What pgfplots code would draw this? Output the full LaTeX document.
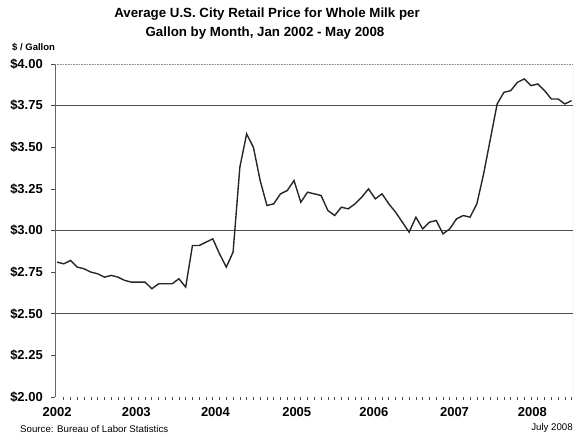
\documentclass[border=0pt]{standalone}
\usepackage{fontspec}
\setmainfont{Liberation Sans}
\usepackage{pgfplots}
\usepackage{pgfplotstable}
\pgfplotsset{compat=1.18}

% month index (0 = Jan 2002), price in $ per gallon
\pgfplotstableread{
m p
0 2.81
1 2.80
2 2.82
3 2.78
4 2.77
5 2.75
6 2.74
7 2.72
8 2.73
9 2.72
10 2.70
11 2.69
12 2.69
13 2.69
14 2.65
15 2.68
16 2.68
17 2.68
18 2.71
19 2.66
20 2.91
21 2.91
22 2.93
23 2.95
24 2.86
25 2.78
26 2.87
27 3.38
28 3.58
29 3.50
30 3.30
31 3.15
32 3.16
33 3.22
34 3.24
35 3.30
36 3.17
37 3.23
38 3.22
39 3.21
40 3.12
41 3.09
42 3.14
43 3.13
44 3.16
45 3.20
46 3.25
47 3.19
48 3.22
49 3.16
50 3.11
51 3.05
52 2.99
53 3.08
54 3.01
55 3.05
56 3.06
57 2.98
58 3.01
59 3.07
60 3.09
61 3.08
62 3.16
63 3.34
64 3.55
65 3.76
66 3.83
67 3.84
68 3.89
69 3.91
70 3.87
71 3.88
72 3.84
73 3.79
74 3.79
75 3.76
76 3.78
}\milk

\begin{document}
\begin{tikzpicture}
\useasboundingbox (-55pt,-44pt) rectangle (524pt,397pt);
\begin{axis}[
  at={(0pt,0pt)}, anchor=south west,
  scale only axis,
  width=518pt, height=333pt,
  xmin=-0.3, xmax=76.2,
  ymin=2, ymax=4,
  axis line style={draw=none},
  tick align=outside,
  xtick pos=bottom, ytick pos=left,
  ytick={2,2.25,2.5,2.75,3,3.25,3.5,3.75,4},
  yticklabels={\$2.00,\$2.25,\$2.50,\$2.75,\$3.00,\$3.25,\$3.50,\$3.75,\$4.00},
  xtick={0,11.7,23.4,35.4,46.8,58.7,70.2},
  xticklabels={2002,2003,2004,2005,2006,2007,2008},
  minor xtick={1,2,...,76},
  major x tick style={draw=none},
  minor tick length=3pt,
  major tick length=4pt,
  tick style={black!70, line width=0.7pt},
  ticklabel style={font=\fontsize{13}{15}\selectfont\bfseries},
  yticklabel style={anchor=east, inner sep=0pt, xshift=-8pt},
  xticklabel style={anchor=north, inner sep=0pt, yshift=-6pt},
  extra y ticks={2.5,3,3.75},
  extra y tick labels={},
  extra y tick style={grid=major, major tick length=0pt,
    major grid style={draw=black!70, line width=0.8pt}},
]
\addplot[black!85, line width=1.4pt] table[x=m, y=p] {\milk};
\draw[black!60, line width=0.8pt] (rel axis cs:0,0) -- (rel axis cs:0,1);
\draw[black!45, densely dotted, line width=0.6pt]
  (rel axis cs:0,1) -- (rel axis cs:1,1) -- (rel axis cs:1,0) -- (rel axis cs:0,0);
\end{axis}
\node[font=\fontsize{13.3}{16}\selectfont\bfseries] at (212pt,383pt)
  {Average U.S. City Retail Price for Whole Milk per};
\node[font=\fontsize{13.3}{16}\selectfont\bfseries] at (210pt,364pt)
  {Gallon by Month, Jan 2002 - May 2008};
\node[anchor=west, inner sep=0pt, font=\fontsize{9.5}{11}\selectfont\bfseries] at (-43pt,350pt)
  {\$ / Gallon};
\node[anchor=west, inner sep=0pt, font=\fontsize{9.7}{11}\selectfont] at (-35pt,-32pt)
  {Source: Bureau of Labor Statistics};
\node[anchor=east, inner sep=0pt, font=\fontsize{9.7}{11}\selectfont] at (518pt,-31pt)
  {July 2008};
\end{tikzpicture}
\end{document}
